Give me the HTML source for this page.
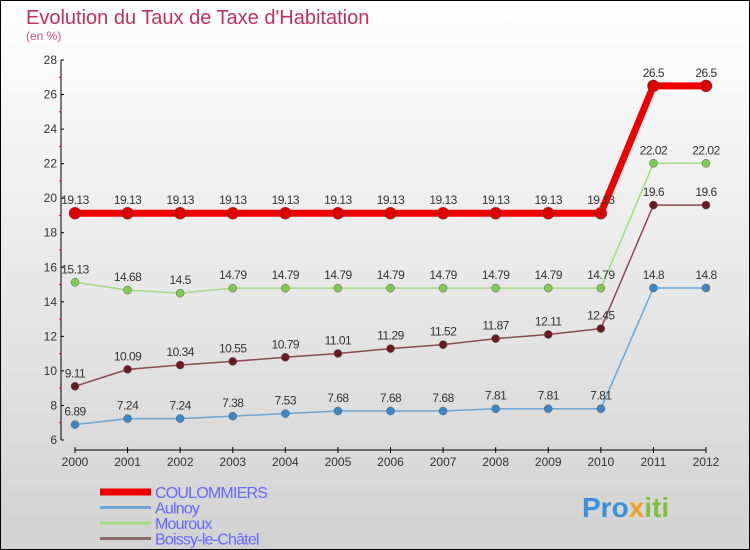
<!DOCTYPE html>
<html><head><meta charset="utf-8"><style>
body{margin:0}
#c{width:750px;height:550px;position:relative;overflow:hidden}
svg text{font-family:"Liberation Sans",sans-serif}
</style></head><body>
<div id="c">
<svg id="s" width="750" height="550" xmlns="http://www.w3.org/2000/svg">
<defs><linearGradient id="bg" x1="0" y1="0" x2="0" y2="1"><stop offset="0" stop-color="#ffffff"/><stop offset="1" stop-color="#d2d2d2"/></linearGradient></defs>
<rect x="0.5" y="0.5" width="749" height="549" fill="url(#bg)" stroke="#000"/>
<text x="26" y="24" font-size="20" fill="#c0305e">Evolution du Taux de Taxe d'Habitation</text>
<text x="26" y="40" font-size="12" fill="#d05080">(en %)</text>
<g id="axes"></g><g id="series"></g><g id="legend"></g>
<text x="582" y="517" font-size="28" font-weight="bold" fill="#3a8fd8">Pro<tspan fill="#f0a020">x</tspan><tspan fill="#80c040">iti</tspan></text>
</svg></div>
<script>
const years=[2000,2001,2002,2003,2004,2005,2006,2007,2008,2009,2010,2011,2012];
const coulommiers=[19.13,19.13,19.13,19.13,19.13,19.13,19.13,19.13,19.13,19.13,19.13,26.5,26.5];
const aulnoy=[6.89,7.24,7.24,7.38,7.53,7.68,7.68,7.68,7.81,7.81,7.81,14.8,14.8];
const mouroux=[15.13,14.68,14.5,14.79,14.79,14.79,14.79,14.79,14.79,14.79,14.79,22.02,22.02];
const boissy=[9.11,10.09,10.34,10.55,10.79,11.01,11.29,11.52,11.87,12.11,12.45,19.6,19.6];
const yTicks=[6,8,10,12,14,16,18,20,22,24,26,28];
const coulLabels=["19.13","19.13","19.13","19.13","19.13","19.13","19.13","19.13","19.13","19.13","19.13","26.5","26.5"];
const aulLabels=["6.89","7.24","7.24","7.38","7.53","7.68","7.68","7.68","7.81","7.81","7.81","14.8","14.8"];
const mouLabels=["15.13","14.68","14.5","14.79","14.79","14.79","14.79","14.79","14.79","14.79","14.79","22.02","22.02"];
const boiLabels=["9.11","10.09","10.34","10.55","10.79","11.01","11.29","11.52","11.87","12.11","12.45","19.6","19.6"];
const NS="http://www.w3.org/2000/svg";
const X=i=>75+i*(706-75)/12;
const Y=v=>440-(v-6)*(380/22);
function mk(t,a,p){const e=document.createElementNS(NS,t);for(const k in a)e.setAttribute(k,a[k]);p.appendChild(e);return e;}
const ax=document.getElementById('axes');
let e=mk('line',{x1:61,y1:60,x2:61,y2:440,stroke:'#000','stroke-width':1},ax);


e=mk('line',{x1:75,y1:450,x2:706,y2:450,stroke:'#000','stroke-width':1},ax);


yTicks.forEach(v=>{
 mk('line',{x1:61,y1:Y(v),x2:64,y2:Y(v),stroke:'#000'},ax);
 if(v<28)mk('line',{x1:59,y1:Y(v+1),x2:61,y2:Y(v+1),stroke:'#f00'},ax);
 const t=mk('text',{x:57,y:Y(v)+4,'font-size':12,fill:'#333','text-anchor':'end'},ax);t.textContent=v;
 
 
});
years.forEach((yr,i)=>{
 mk('line',{x1:X(i),y1:447,x2:X(i),y2:453,stroke:'#000'},ax);
 const t=mk('text',{x:X(i),y:466,'font-size':12,fill:'#333','text-anchor':'middle'},ax);t.textContent=yr;
 
 
});
const sg=document.getElementById('series');
function draw(vals,labels,color,dot,w,r,name){
 const g=mk('g',{},sg);
 
 
 mk('polyline',{points:vals.map((v,i)=>X(i)+','+Y(v)).join(' '),fill:'none',stroke:color,'stroke-width':w,'stroke-linejoin':'round'},g);
 vals.forEach((v,i)=>{
  const c=mk('circle',{cx:X(i),cy:Y(v),r:r,fill:dot,stroke:'#555','stroke-width':0.5},g);
  
  
  const t=mk('text',{x:X(i),y:Y(v)-9,'font-size':12,fill:'#333','text-anchor':'middle','letter-spacing':'-0.5'},g);t.textContent=labels[i];
  
  
 });
}
draw(aulnoy,aulLabels,'#6aa6d6','#3a88c8',1.5,4,'aulnoy');
draw(boissy,boiLabels,'#8a4a50','#6a1a20',1.5,4,'boissy');
draw(mouroux,mouLabels,'#a0dc80','#80cc50',1.5,4,'mouroux');
draw(coulommiers,coulLabels,'#ee0000','#dd0000',7,6,'coulommiers');
const lg=document.getElementById('legend');
const leg=[["COULOMMIERS",'#ee0000',7],["Aulnoy",'#6aa6d6',3],["Mouroux",'#a0dc80',3],["Boissy-le-Châtel",'#8a6a6a',3]];
leg.forEach((l,i)=>{
 const y=492+i*15.5;
 const g=mk('g',{},lg);
 
 
 mk('line',{x1:100,y1:y,x2:151,y2:y,stroke:l[1],'stroke-width':l[2]},g);
 const t=mk('text',{x:155,y:y+6,'font-size':16,fill:'#6666ff','letter-spacing':'-0.8'},g);t.textContent=l[0];
});
</script></body></html>
